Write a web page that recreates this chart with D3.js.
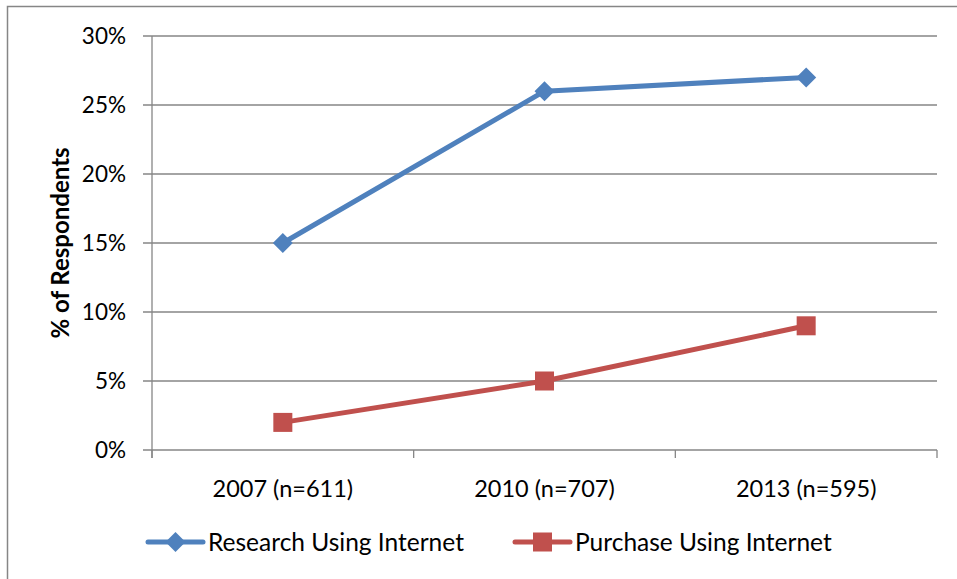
<!DOCTYPE html>
<html><head><meta charset="utf-8">
<script src="https://cdn.jsdelivr.net/npm/d3@7"></script>
<style>body{margin:0;background:#fff}svg{display:block}text{font-family:Lato,"Open Sans",sans-serif}</style>
</head><body><svg id="c" width="957" height="579"></svg>
<script>
const categories = ["2007 (n=611)", "2010 (n=707)", "2013 (n=595)"];
const research = [15, 26, 27];
const purchase = [2, 5, 9];
const yTicks = [0, 5, 10, 15, 20, 25, 30];
const seriesNames = ["Research Using Internet", "Purchase Using Internet"];

const svg = d3.select("#c");
const L = 152, R = 937, T = 36, B = 450;
svg.append("rect").attr("x", 7.5).attr("y", 6.5).attr("width", 960).attr("height", 600)
  .attr("fill", "none").attr("stroke", "#868686").attr("stroke-width", 1.5);

const x = d3.scaleBand().domain(categories).range([L, R]);
const y = d3.scaleLinear().domain([0, 30]).range([B, T]);
const grid = "#868686";

svg.append("g").selectAll("line").data(yTicks).join("line")
  .attr("x1", L - 9).attr("x2", R).attr("y1", d => y(d)).attr("y2", d => y(d))
  .attr("stroke", grid).attr("stroke-width", 1.3);
svg.append("line").attr("x1", L).attr("x2", L).attr("y1", T).attr("y2", B + 8)
  .attr("stroke", grid).attr("stroke-width", 1.3);
const xt = categories.map(c => x(c)).concat([R]);
svg.append("g").selectAll("line").data(xt).join("line")
  .attr("x1", d => d).attr("x2", d => d).attr("y1", B).attr("y2", B + 8)
  .attr("stroke", grid).attr("stroke-width", 1.3);
svg.append("g").selectAll("text").data(yTicks).join("text")
  .attr("x", L - 26).attr("y", d => y(d)).attr("dy", "0.36em").attr("text-anchor", "end")
  .attr("font-size", 22.5).attr("fill", "#000").text(d => d + "%");
svg.append("g").selectAll("text").data(categories).join("text")
  .attr("x", d => x(d) + x.bandwidth() / 2).attr("y", 489).attr("dy", "0.36em").attr("text-anchor", "middle")
  .attr("font-size", 23.5).attr("fill", "#000").text(d => d);
svg.append("text").attr("transform", "translate(60,243) rotate(-90)").attr("text-anchor", "middle")
  .attr("dy", "0.36em").attr("font-size", 24).attr("font-weight", "bold").attr("fill", "#000").text("% of Respondents");

const cx = d => x(d) + x.bandwidth() / 2;
const line = d3.line().x((d, i) => cx(categories[i])).y(d => y(d));
const colors = ["#4F81BD", "#C0504D"];
const diamond = d3.symbol().type(d3.symbolSquare).size(200);

svg.append("path").datum(research).attr("d", line).attr("fill", "none")
  .attr("stroke", colors[0]).attr("stroke-width", 5).attr("stroke-linejoin", "round");
svg.append("g").selectAll("path").data(research).join("path")
  .attr("transform", (d, i) => `translate(${cx(categories[i])},${y(d)}) rotate(45)`)
  .attr("d", diamond).attr("fill", colors[0]);

svg.append("path").datum(purchase).attr("d", line).attr("fill", "none")
  .attr("stroke", colors[1]).attr("stroke-width", 5).attr("stroke-linejoin", "round");
svg.append("g").selectAll("rect").data(purchase).join("rect")
  .attr("x", (d, i) => cx(categories[i]) - 9.5).attr("y", d => y(d) - 9.5)
  .attr("width", 19).attr("height", 19).attr("fill", colors[1]);

const lg = [{x: 148, name: seriesNames[0], c: colors[0], m: "d"}, {x: 515, name: seriesNames[1], c: colors[1], m: "s"}];
const ly = 542;
lg.forEach(l => {
  const g = svg.append("g");
  g.append("line").attr("x1", l.x).attr("x2", l.x + 55).attr("y1", ly).attr("y2", ly)
    .attr("stroke", l.c).attr("stroke-width", 5).attr("stroke-linecap", "round");
  if (l.m === "d") g.append("path").attr("transform", `translate(${l.x + 27.5},${ly}) rotate(45)`)
    .attr("d", diamond).attr("fill", l.c);
  else g.append("rect").attr("x", l.x + 27.5 - 9.5).attr("y", ly - 9.5).attr("width", 19).attr("height", 19).attr("fill", l.c);
  g.append("text").attr("x", l.x + 60).attr("y", ly).attr("dy", "0.36em").attr("font-size", 24.5)
    .attr("fill", "#000").text(l.name);
});
</script></body></html>
